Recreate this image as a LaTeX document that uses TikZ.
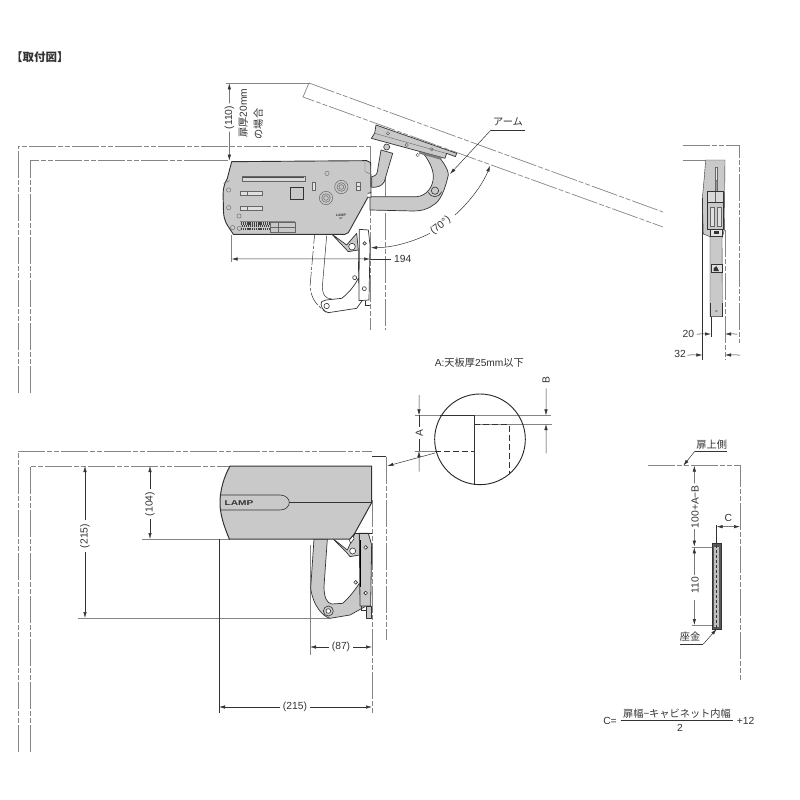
\documentclass[tikz,border=0pt]{standalone}
\usepackage{fontspec}
\setmainfont{Liberation Sans}
\newfontfamily\jp{Noto Sans CJK JP}
\usetikzlibrary{arrows.meta}
\definecolor{bodygray}{HTML}{C9C9C9}
\definecolor{ink}{HTML}{333333}
\definecolor{thin}{HTML}{858585}
\tikzset{
 x=1pt,y=-1pt,
 every node/.style={inner sep=0pt,font=\fontsize{10.3}{12}\selectfont,text=ink},
 jptext/.style={font=\jp\fontsize{10.2}{12}\selectfont},
 cen/.style={dash pattern=on 27pt off 2pt on 5pt off 2pt on 5pt off 2pt,line width=.7pt,draw=thin},
 faint/.style={line width=.55pt,draw=thin},
 dim/.style={line width=.5pt,draw=ink},
 tip/.style={-{Latex[length=6pt,width=3.4pt]}},
 part/.style={fill=bodygray,draw=ink,line width=.7pt,line join=round},
 heavy/.style={fill=bodygray,draw=black!80,line width=1pt,line join=round},
 holeb/.style={draw=ink,fill=bodygray,line width=.6pt},
 ghost/.style={draw=ink,line width=.5pt,dash pattern=on 14pt off 2pt on 3pt off 2pt},
 detail/.style={draw=ink,line width=.6pt},
 tiny/.style={draw=black!60,line width=.4pt},
 dashy/.style={draw=ink,line width=.7pt,dash pattern=on 6pt off 3pt}
}
\begin{document}
\begin{tikzpicture}
\useasboundingbox[fill=white] (0,0) rectangle (800,800);
\node[anchor=west,font=\jp\bfseries\fontsize{11.5}{13}\selectfont] (title) at (11,57) {【取付図】};
% ----- cabinet lines, upper view
\draw[cen] (18,393) -- (18,146) -- (371,146);
\draw[cen] (30,393) -- (30,160) -- (228,160);
\draw[faint] (226,83.3) -- (310,83.3);
\draw[cen] (370,146) -- (370,330);
\draw[cen] (385,170) -- (385,330);
% ----- door
\draw[cen] (309,83) -- (663,212);
\draw[cen] (309,83) -- (303,97) -- (663,227);
% ----- upper view mechanism
\begin{scope}[shift={(200,70)},scale=1/3]
 % lower hinge (white arm)
 \draw[ghost] (345,480) -- (330,650) .. controls (335,690) and (350,705) .. (378,727);
 \draw[detail,line width=.5pt] (380,497) -- (367,650) .. controls (368,675) and (375,685) .. (395,687);
 \draw[part,fill=white] (378,690) -- (425,685) .. controls (445,670) and (462,650) .. (475,625) -- (495,680) -- (470,715) -- (385,728) .. controls (370,725) and (358,705) .. (365,695) -- cycle;
 \draw[part] (395,492) -- (440,525) -- (470,490) -- (475,540) -- (445,545) -- cycle;
 \draw[part,fill=white] (478,478) -- (505,480) -- (510,525) -- (507,690) -- (477,692) -- cycle;
 \draw[detail] (495,692) -- (495,705) -- (510,705);
 \draw[detail] (475,540) -- (476,640);
 \foreach \cx/\cy/\cr in {456/530/10,494/520/5,464/623/6,493/656/6,380/708/8}
  \draw[detail,fill=white] (\cx,\cy) circle (\cr);
 % arm
 \draw[part] (510,380) -- (650,380) .. controls (680,378) and (700,350) .. (700,320) .. controls (700,295) and (685,270) .. (670,250) -- (700,240) .. controls (725,270) and (745,295) .. (745,315) .. controls (735,360) and (720,395) .. (700,405) .. controls (680,420) and (660,423) .. (640,423) -- (510,420) -- cycle;
 \draw[holeb] (705,362) circle (11);
 \draw[detail] (685,367) .. controls (695,385) and (715,385) .. (725,365);
 % second arm
 \draw[part] (543,240) -- (578,250) -- (553,335) .. controls (545,350) and (530,352) .. (515,352) -- (515,320) .. controls (525,318) and (530,315) .. (532,305) -- cycle;
 % hinge plates
 \draw[part] (528,165) -- (770,250) -- (766,260) -- (740,250) -- (735,265) -- (514,205) -- (524,190) -- cycle;
 \draw[tiny] (524,190) -- (738,250);
 \draw[holeb] (560,231) circle (9);
 \foreach \cx/\cy in {564/190,620/225,653/255,695/238} \draw[tiny] (\cx,\cy) circle (5);
 \draw[tiny,fill=black!50] (660,245) -- (725,262) -- (722,268) -- (658,250) -- cycle;
 % body
 \draw[heavy,line width=.9pt] (95,275) -- (500,272) -- (512,278) -- (513,365) -- (445,488) -- (435,493) -- (100,493) -- (85,470) .. controls (72,450) and (70,440) .. (70,400) .. controls (68,360) and (70,345) .. (82,325) -- cycle;
 \draw[tiny] (495,275) -- (495,305) -- (512,312);
 \draw[tiny] (70,340) -- (90,332);
 \draw[detail,line width=.8pt,fill=white] (503,370) -- (513,368) -- (513,382) -- (503,382);
 % body features
 \foreach \cx/\cy in {86/360,86/413,117/438,98/473,118/475,381/310} \draw[tiny] (\cx,\cy) circle (6.5);
 \draw[tiny,fill=black!15] (126,320) rectangle (316,334);
 \draw[fill=black!70,draw=none] (130,322) rectangle (312,324);
 \draw[tiny,fill=black!12] (122,364) rectangle (187,375);
 \draw[tiny,fill=black!12] (122,408) rectangle (187,420);
 \draw[tiny] (142,364) -- (142,375) (142,408) -- (142,420);
 \draw[detail,line width=.9pt] (272,352) rectangle (310,388);
 \draw[tiny,fill=black!10] (337,337) rectangle (347,362);
 \draw[tiny,fill=black!10] (470,338) rectangle (481,362);
 \draw[tiny] (470,350) -- (481,350);
 \foreach \cx/\cy in {424/351,378/384} {
  \draw[tiny,line width=.5pt] (\cx,\cy) circle (20) circle (13) circle (7);
 }
 \draw[line width=2.5pt,dash pattern=on 1.3pt off .9pt,draw=black!75] (122,461) -- (210,461) (122,477) -- (210,477);
 \draw[line width=2pt,dash pattern=on 1pt off 1pt,draw=black!75] (125,469) -- (210,469);
 \draw[tiny] (212,458) rectangle (285,486) (235,458) -- (235,486) (212,472) -- (285,472);
 \draw[faint] (120,455) -- (285,455);
 \node[font=\bfseries\fontsize{3.5}{4}\selectfont] (lampa) at (423,437) {LAMP};
 \node[font=\bfseries\fontsize{2.5}{3}\selectfont] (lampb) at (423,446) {ST};
 % dimensions
 \coordinate (t110a) at (88,40);
 \coordinate (t110b) at (88,272);
 \draw[dim,tip] (88,100) -- (t110a);
 \draw[dim,tip] (88,185) -- (t110b);
 \node[rotate=90] (d110) at (88,143) {(110)};
 \node[rotate=90,jptext] (d110a) at (130,130) {扉厚\fontspec{Liberation Sans}20mm};
 \node[rotate=90,jptext] (d110b) at (175,162) {の場合};
 \draw[cen] (0,272) -- (85,272);
 \draw[faint] (95,495) -- (95,575);
 \coordinate (e194a) at (95,567);
 \coordinate (e194b) at (510,567);
 \draw[dim,tip] (350,567) -- (e194a);
 \draw[dim,tip] (350,567) -- (e194b);
 \draw[dim] (510,567) -- (572,567);
 \node[anchor=west] (d194) at (582,568) {194};
 \coordinate (a70a) at (513,533);
 \coordinate (a70b) at (870,287);
 \draw[dim,tip] (690,490) .. controls (630,520) and (570,533) .. (a70a);
 \draw[dim,tip] (765,435) .. controls (810,395) and (850,340) .. (a70b);
 \node[rotate=38] (d70) at (722,467) {(70°)};
\end{scope}
% arm label
\node[jptext] (lblarm) at (508,122) {アーム};
\draw[dim] (525,130) -- (491,130);
\coordinate (armtip) at (450,174);
\draw[dim,tip] (491,130) -- (armtip);
% ----- upper right side view
\begin{scope}[shift={(660,130)},scale=1/3]
 \draw[cen] (68,45) -- (238,45) -- (238,640);
 \draw[cen] (68,90) -- (135,90);
 \draw[part,line width=.4pt] (137,90) -- (195,90) -- (193,300) -- (186,325) -- (187,560) -- (150,560) -- (150,320) -- (130,312) -- (127,205) -- (133,140) -- cycle;
 \draw[tiny,fill=black!10] (165,112) rectangle (173,150);
 \draw[tiny,fill=black!40] (165,150) rectangle (173,185);
 \draw[detail,line width=.8pt,fill=black!15] (143,185) rectangle (190,218);
 \draw[tiny] (166,185) -- (166,218);
 \draw[detail,fill=bodygray,line width=.8pt] (143,218) rectangle (190,298);
 \draw[tiny,fill=black!12] (152,232) rectangle (163,290) (172,232) rectangle (183,290);
 \draw[draw=black!80,fill=black!10,line width=.8pt] (150,298) rectangle (187,318);
 \draw[fill=black!80,draw=none] (162,304) rectangle (176,312);
 \draw[detail,line width=.9pt,fill=black!12] (153,403) rectangle (187,426);
 \draw[fill=black!80,draw=none] (161,415) -- (169,408) -- (177,423) -- (161,423) -- cycle;
 \draw[detail] (150,520) -- (150,560) (187,520) -- (187,560);
 \node[rotate=90,font=\fontsize{3.5}{4}\selectfont] (sd8) at (169,545) {8};
 \draw[detail,line width=.8pt] (127,205) -- (127,690);
 \draw[cen] (195,300) -- (195,690);
 \draw[detail,line width=.8pt] (153,560) -- (153,622);
 \coordinate (s20a) at (153,612);
 \coordinate (s20b) at (195,612);
 \draw[dim,tip] (110,612) -- (s20a);
 \draw[dim,tip] (232,612) -- (s20b);
 \node (d20) at (85,612) {20};
 \coordinate (s32a) at (127,675);
 \coordinate (s32b) at (195,675);
 \draw[dim,tip] (82,675) -- (s32a);
 \draw[dim,tip] (240,675) -- (s32b);
 \node (d32) at (60,673) {32};
\end{scope}
% ----- detail circle
\begin{scope}[shift={(380,350)},scale=1/3]
 \node[jptext] (lbla) at (298,38) {\fontspec{Liberation Sans}A:\jp 天板厚\fontspec{Liberation Sans}25mm\jp 以下};
 \draw[faint] (105,196) -- (512,196);
 \draw[faint] (283,222) -- (515,222);
 \draw[faint] (105,303) -- (165,303);
 \draw[detail] (180,196) -- (283,196);
 \draw[detail] (283,196) -- (283,405);
 \draw[dashy] (165,303) -- (283,303);
 \draw[dashy] (283,224) -- (388,224) -- (388,372);
 \draw[draw=black!85,line width=.9pt] (300,268) circle (136);
 \coordinate (aa) at (117,196);
 \coordinate (ab) at (117,303);
 \draw[dim,tip] (117,135) -- (aa);
 \draw[dim,tip] (117,365) -- (ab);
 \draw[dim] (117,196) -- (117,232) (117,268) -- (117,303);
 \node[rotate=90] (lA) at (118,250) {A};
 \coordinate (ba) at (498,196);
 \coordinate (bb) at (498,222);
 \draw[dim,tip] (498,115) -- (ba);
 \draw[dim,tip] (498,310) -- (bb);
 \node[rotate=90] (lB) at (498,90) {B};
 \coordinate (ldr) at (22,348);
 \draw[dim,tip] (165,309) -- (ldr);
\end{scope}
% ----- lower view
\draw[cen] (18,752) -- (18,451) -- (372,451);
\draw[cen] (30,752) -- (30,466) -- (230,466);
\draw[faint] (142,539) -- (230,539);
\draw[faint] (78,618) -- (330,618);
\draw[detail] (219,539) -- (219,713);
\draw[faint] (310,545) -- (310,655);
\draw[cen] (372,500) -- (372,713);
\draw[detail] (372,456.5) -- (386,456.5);
\draw[cen] (386,456.5) -- (386,640);
\coordinate (v104a) at (150,466);
\coordinate (v104b) at (150,539);
\draw[dim,tip] (150,489) -- (v104a);
\draw[dim,tip] (150,519) -- (v104b);
\node[rotate=90] (d104) at (150,504) {(104)};
\coordinate (v215a) at (85,466);
\coordinate (v215b) at (85,618);
\draw[dim,tip] (85,520) -- (v215a);
\draw[dim,tip] (85,552) -- (v215b);
\node[rotate=90] (d215v) at (85,536) {(215)};
\coordinate (h87a) at (310,647);
\coordinate (h87b) at (372,647);
\draw[dim,tip] (329,647) -- (h87a);
\draw[dim,tip] (353,647) -- (h87b);
\node (d87) at (341,647) {(87)};
\coordinate (h215a) at (219,707);
\coordinate (h215b) at (372,707);
\draw[dim,tip] (280,707) -- (h215a);
\draw[dim,tip] (310,707) -- (h215b);
\node (d215h) at (295,707) {(215)};
\begin{scope}[shift={(200,440)},scale=1/3]
 \draw[part] (342,297) -- (382,297) -- (372,440) .. controls (372,470) and (380,490) .. (395,492) -- (428,490) .. controls (450,470) and (465,450) .. (478,430) -- (495,500) -- (450,525) -- (390,535) .. controls (370,530) and (340,500) .. (332,445) -- cycle;
 \draw[holeb,fill=bodygray] (385,513) circle (15);
 \draw[detail,fill=white] (385,513) circle (7);
 \draw[part] (400,297) -- (442,330) -- (465,280) -- (480,282) -- (478,345) -- (450,350) .. controls (440,335) and (420,320) .. (400,297) -- cycle;
 \draw[part,fill=white,line width=.6pt] (447,297) -- (460,285) -- (462,297) -- (452,310) -- cycle;
 \draw[part,line width=.8pt] (478,280) -- (505,280) -- (515,315) -- (512,498) -- (480,498) -- cycle;
 \draw[detail] (483,498) -- (483,510) -- (500,510);
 \draw[part,line width=.8pt] (498,498) -- (515,498) -- (515,535) -- (498,535) -- cycle;
 \draw[draw=black,line width=.8pt] (480,300) -- (480,440);
 \draw[holeb,fill=white] (458,333) circle (9);
 \foreach \cx/\cy in {497/322,467/427,497/459} \draw[detail,fill=white] (\cx,\cy) circle (5.5);
 \draw[heavy] (90,78) -- (515,78) -- (515,188) -- (463,282) -- (450,297) -- (88,297) .. controls (70,255) and (60,220) .. (60,188) .. controls (60,150) and (72,110) .. (90,78) -- cycle;
 \draw[detail] (62,165) -- (240,165) .. controls (258,165) and (268,178) .. (268,187) .. controls (268,198) and (258,210) .. (240,210) -- (62,210);
 \draw[detail] (268,186) -- (515,186);
 \node[font=\bfseries\fontsize{7}{8}\selectfont,xscale=1.45] (lampc) at (117,189) {LAMP};
 \draw[line width=1.1pt,draw=black!85] (465,280) -- (515,280);
\end{scope}
% ----- right lower view
\begin{scope}[shift={(580,430)},scale=1/3]
 \draw[cen] (205,107) -- (480,107) -- (480,750);
 \node[jptext] (lblt) at (395,43) {扉上側};
 \draw[dim] (442,63) -- (345,63);
 \coordinate (topldr) at (310,107);
 \draw[dim,tip] (345,63) -- (topldr);
 \coordinate (v1a) at (343,107);
 \coordinate (v1b) at (343,350);
 \coordinate (v2a) at (343,352);
 \coordinate (v2b) at (343,585);
 \draw[dim,tip] (343,160) -- (v1a);
 \draw[dim,tip] (343,297) -- (v1b);
 \draw[dim,tip] (343,435) -- (v2a);
 \draw[dim,tip] (343,510) -- (v2b);
 \node[rotate=90] (d100) at (345,230) {100+A−B};
 \node[rotate=90] (d110r) at (345,466) {110};
 \draw[faint] (335,351) -- (396,351);
 \draw[faint] (335,585) -- (396,585);
 \draw[detail,fill=black!65,line width=.7pt] (396,341) rectangle (425,597);
 \draw[fill=black!25,draw=none] (402,350) rectangle (418,590);
 \draw[draw=black!80,line width=1.2pt,dash pattern=on 3pt off 2pt] (410,345) -- (410,595);
 \draw[detail] (410,341) -- (410,285);
 \coordinate (ca) at (410,290);
 \coordinate (cb) at (480,290);
 \draw[dim,tip] (445,290) -- (ca);
 \draw[dim,tip] (445,290) -- (cb);
 \node (lC) at (445,264) {C};
 \node[jptext] (lblz) at (330,620) {座金};
 \draw[dim] (300,642) -- (370,642);
 \coordinate (zaldr) at (410,597);
 \draw[dim,tip] (370,642) -- (zaldr);
 \node (fc) at (90,873) {C=};
 \node[jptext] (fn) at (291,852) {扉幅−キャビネット内幅};
 \draw[line width=.6pt,draw=ink] (122,872) -- (460,872);
 \node (fd) at (300,893) {2};
 \node (fp) at (497,873) {+12};
\end{scope}
\end{tikzpicture}
\end{document}
